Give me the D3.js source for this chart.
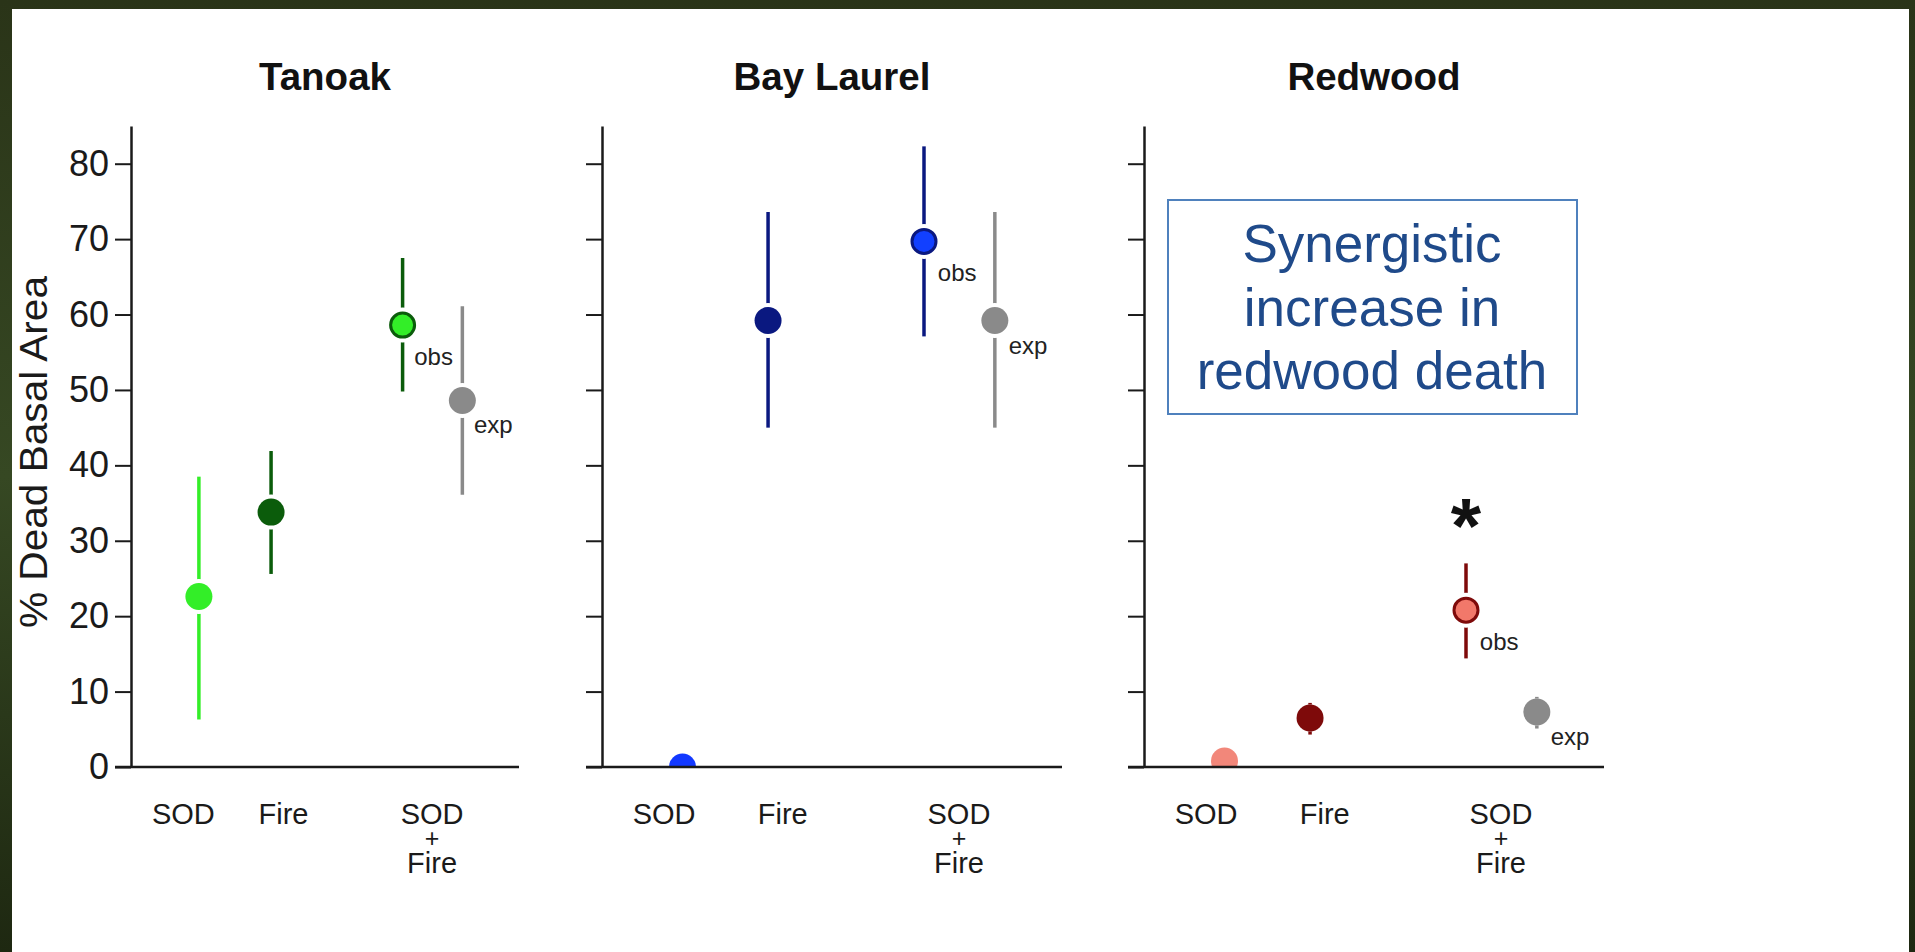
<!DOCTYPE html>
<html>
<head>
<meta charset="utf-8">
<script src="https://cdn.jsdelivr.net/npm/d3@7.9.0/dist/d3.min.js"></script>
<style>
html, body { margin: 0; padding: 0; overflow: hidden; background: #2b3719; }
svg { display: block; font-family: 'Liberation Sans', Arial, sans-serif; }
</style>
</head>
<body>
<div id="chart"></div>
<script>
// data
const species = ['Tanoak', 'Bay Laurel', 'Redwood'];
const treatments = ['SOD', 'Fire', 'obs', 'exp'];
const xLabels = [['SOD'], ['Fire'], ['SOD', '+', 'Fire']];
const yTicks = [0, 10, 20, 30, 40, 50, 60, 70, 80];

const tanoakMean = [22.6, 33.8, 58.6, 48.6];
const tanoakLow = [6.3, 25.6, 49.8, 36.1];
const tanoakHigh = [38.5, 41.9, 67.5, 61.1];

const bayMean = [0, 59.2, 69.7, 59.2];
const bayLow = [null, 45.0, 57.1, 45.0];
const bayHigh = [null, 73.6, 82.3, 73.6];

const redwoodMean = [0.8, 6.5, 20.8, 7.3];
const redwoodLow = [null, 4.3, 14.4, 5.1];
const redwoodHigh = [null, 8.5, 27.0, 9.3];

const noteLines = ['Synergistic', 'increase in', 'redwood death'];

// colours per panel: SOD, Fire, obs, exp
const fills = [
    ['#33ee28', '#0b5c0b', '#33ee28', '#8a8a8a'],
    ['#1238ff', '#0a1880', '#1240ff', '#8a8a8a'],
    ['#f2877a', '#7e0a0a', '#f2786a', '#8a8a8a']
];
const bars = [
    ['#33ee28', '#0b5c0b', '#0b5c0b', '#8a8a8a'],
    ['#1238ff', '#0a1880', '#0a1880', '#8a8a8a'],
    ['#f2877a', '#7e0a0a', '#7e0a0a', '#8a8a8a']
];

const panelData = [
    [tanoakMean, tanoakLow, tanoakHigh],
    [bayMean, bayLow, bayHigh],
    [redwoodMean, redwoodLow, redwoodHigh]
];

// layout
const width = 1915;
const height = 952;
const axisX = [131, 602, 1144];
const plotW = [388, 460, 460];
const baseY = 767;
const dotR = 13.5;

const svg = d3.select('#chart')
    .append('svg')
    .attr('width', width)
    .attr('height', height);

const defs = svg.append('defs');
const grad = defs.append('linearGradient')
    .attr('id', 'frame')
    .attr('x1', 0).attr('y1', 0).attr('x2', 0).attr('y2', 1);
grad.append('stop').attr('offset', '0%').attr('stop-color', '#2a3418');
grad.append('stop').attr('offset', '50%').attr('stop-color', '#364823');
grad.append('stop').attr('offset', '100%').attr('stop-color', '#1e2811');

svg.append('rect')
    .attr('width', width)
    .attr('height', height)
    .attr('fill', 'url(#frame)');

svg.append('rect')
    .attr('x', 12)
    .attr('y', 9)
    .attr('width', 1897)
    .attr('height', height - 9)
    .attr('fill', 'white');

const y = d3.scaleLinear().domain([0, 85]).range([baseY, 126]);

// where each treatment sits along a panel (fraction of panel width)
const slot = d3.scaleOrdinal().domain(treatments).range([0.175, 0.361, 0.700, 0.854]);
const labelSlot = [0.135, 0.393, 0.776];

// halo radius: leaves a white gap round the dot, but lets short bar tips show
function haloR(d) {
    if (d.low == null) return dotR;
    const gap = Math.min(y(d.low) - y(d.mean), y(d.mean) - y(d.high)) - 2.5;
    return Math.max(dotR, Math.min(dotR + 4, gap));
}

species.forEach((name, p) => {
    const x = d3.scaleLinear().domain([0, 1]).range([0, plotW[p]]);
    const g = svg.append('g').attr('transform', `translate(${axisX[p]}, 0)`);

    const [mean, low, high] = panelData[p];
    const rows = treatments.map((t, i) => ({
        t, i, mean: mean[i], low: low[i], high: high[i]
    }));

    g.append('clipPath')
        .attr('id', `clip${p}`)
        .append('rect')
        .attr('x', -20)
        .attr('y', 0)
        .attr('width', plotW[p] + 40)
        .attr('height', baseY);

    const marks = g.append('g').attr('clip-path', `url(#clip${p})`);

    // error bars
    marks.selectAll('line.err')
        .data(rows.filter(d => d.low != null))
        .enter()
        .append('line')
        .attr('class', 'err')
        .attr('x1', d => x(slot(d.t)))
        .attr('x2', d => x(slot(d.t)))
        .attr('y1', d => y(d.high))
        .attr('y2', d => y(d.low))
        .attr('stroke', d => bars[p][d.i])
        .attr('stroke-width', 3.5);

    marks.selectAll('circle.halo')
        .data(rows)
        .enter()
        .append('circle')
        .attr('class', 'halo')
        .attr('cx', d => x(slot(d.t)))
        .attr('cy', d => y(d.mean))
        .attr('r', haloR)
        .attr('fill', 'white');

    marks.selectAll('circle.dot')
        .data(rows)
        .enter()
        .append('circle')
        .attr('class', 'dot')
        .attr('cx', d => x(slot(d.t)))
        .attr('cy', d => y(d.mean))
        .attr('r', d => d.t === 'obs' ? dotR - 1.5 : dotR)
        .attr('fill', d => fills[p][d.i])
        .attr('stroke', d => d.t === 'obs' ? bars[p][d.i] : 'none')
        .attr('stroke-width', 3);

    // obs / exp tags
    g.selectAll('text.tag')
        .data(rows.filter(d => d.t === 'obs' || d.t === 'exp'))
        .enter()
        .append('text')
        .attr('class', 'tag')
        .attr('x', d => x(slot(d.t) + 0.03))
        .attr('y', d => y(d.mean) + (d.t === 'obs' ? 40 : 33))
        .attr('font-size', '24px')
        .attr('fill', '#222')
        .text(d => d.t);

    // y axis
    const yAxis = d3.axisLeft(y)
        .tickValues(yTicks)
        .tickSize(16)
        .tickSizeOuter(0)
        .tickPadding(6);
    if (p > 0) yAxis.tickFormat('');

    const ya = g.append('g').attr('class', 'y-axis').call(yAxis);
    ya.select('.domain').attr('stroke', '#1a1a1a').attr('stroke-width', 2.5);
    ya.selectAll('.tick line').attr('stroke', '#1a1a1a').attr('stroke-width', 2);
    ya.selectAll('.tick text')
        .attr('font-size', '36px')
        .attr('font-family', "'Liberation Sans', Arial, sans-serif")
        .attr('fill', '#1a1a1a');

    // x baseline
    g.append('line')
        .attr('x1', -16)
        .attr('x2', x(1))
        .attr('y1', baseY)
        .attr('y2', baseY)
        .attr('stroke', '#1a1a1a')
        .attr('stroke-width', 2.5);

    // x labels, stacked lines as separate texts
    xLabels.forEach((lines, k) => {
        let yy = 824;
        lines.forEach((s, j) => {
            if (j > 0) yy += s === '+' ? 23 : 26;
            g.append('text')
                .attr('x', x(labelSlot[k]))
                .attr('y', yy)
                .attr('text-anchor', 'middle')
                .attr('font-size', s === '+' ? '25px' : '29px')
                .attr('fill', '#1a1a1a')
                .text(s);
        });
    });

    // panel title
    g.append('text')
        .attr('x', x(0.5))
        .attr('y', 90)
        .attr('text-anchor', 'middle')
        .attr('font-size', '38.5px')
        .attr('font-weight', 'bold')
        .attr('fill', '#111')
        .text(name);
});

// y axis title
svg.append('text')
    .attr('transform', 'translate(47, 452) rotate(-90)')
    .attr('text-anchor', 'middle')
    .attr('font-size', '39px')
    .attr('textLength', 352)
    .attr('lengthAdjust', 'spacingAndGlyphs')
    .attr('fill', '#1a1a1a')
    .text('% Dead Basal Area');

// significance star over redwood obs
const xRed = d3.scaleLinear().domain([0, 1]).range([axisX[2], axisX[2] + plotW[2]]);
svg.append('text')
    .attr('x', xRed(slot('obs')))
    .attr('y', y(redwoodHigh[2]) - 10)
    .attr('text-anchor', 'middle')
    .attr('font-size', '78px')
    .attr('font-weight', 'bold')
    .attr('fill', '#111')
    .text('*');

// note box
const note = svg.append('g');
note.append('rect')
    .attr('x', 1168)
    .attr('y', 200)
    .attr('width', 409)
    .attr('height', 214)
    .attr('fill', 'white')
    .attr('stroke', '#4f81bd')
    .attr('stroke-width', 2);

note.selectAll('text')
    .data(noteLines)
    .enter()
    .append('text')
    .attr('x', 1372)
    .attr('y', (d, i) => 262 + i * 63.5)
    .attr('text-anchor', 'middle')
    .attr('font-size', '53px')
    .attr('fill', '#1f4a8a')
    .text(d => d);
</script>
</body>
</html>
